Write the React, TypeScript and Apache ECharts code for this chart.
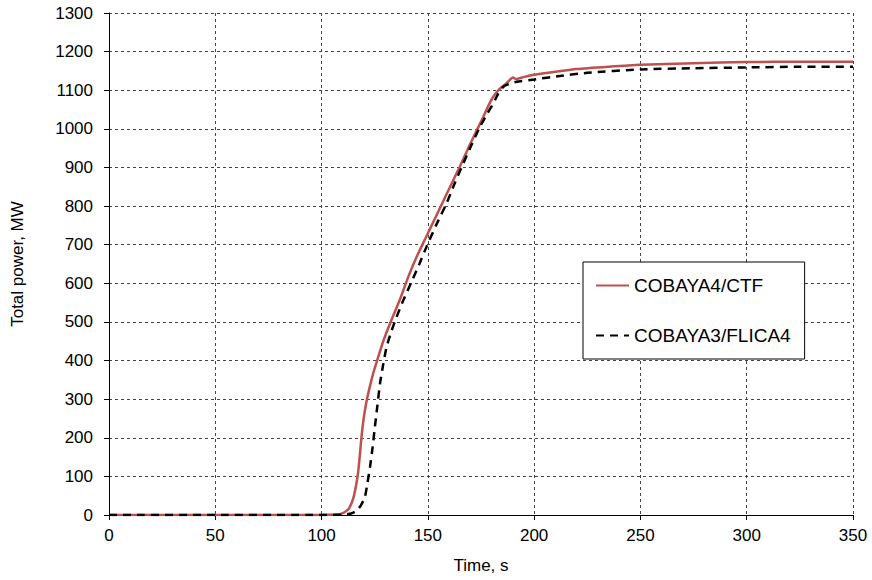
import React, { useEffect, useRef } from "react";
import * as echarts from "echarts";

const ctfTime = [0, 50, 100, 106, 109, 111, 113, 115, 116.5, 117.3, 118, 118.8, 119.8, 121, 122.5, 124.2, 126.2, 129, 132.2, 134, 137, 141, 145, 149, 153, 157, 161, 165, 169, 173, 176, 178.5, 181, 184, 187, 190, 191.5, 195, 200, 210, 220, 235, 250, 275, 300, 325, 350];
const ctfPower = [0, 0, 0, 1, 3, 8, 18, 45, 85, 115, 155, 203, 250, 290, 328, 365, 401, 450, 496, 520, 560, 620, 672, 718, 764, 810, 856, 902, 950, 996, 1030, 1060, 1085, 1105, 1118, 1133, 1129, 1134, 1140, 1148, 1155, 1161, 1166, 1170, 1173, 1174, 1174];

const flicaTime = [0, 50, 100, 110, 114, 116.5, 118.5, 120.4, 121.5, 122.8, 124, 125.1, 126.3, 127.5, 129, 130.6, 133, 135.3, 138, 142, 146, 149.4, 154, 158.8, 162.7, 166.7, 170.5, 174.5, 178, 180.8, 183, 185.5, 188, 191.7, 200, 212, 225, 250, 275, 300, 325, 350];
const flicaPower = [0, 0, 0, 1, 4, 11, 25, 47, 80, 125, 175, 229, 285, 341, 390, 436, 478, 513, 550, 600, 650, 695, 752, 807, 860, 911, 958, 1005, 1040, 1066, 1090, 1109, 1116, 1122, 1128, 1137, 1145, 1154, 1157, 1159, 1161, 1161];

const seriesNames = ["COBAYA4/CTF", "COBAYA3/FLICA4"];
const xTitle = "Time, s";
const yTitle = "Total power, MW";

const FONT = "'Liberation Sans', Arial, sans-serif";

export default function App() {
  const ref = useRef<HTMLDivElement>(null);
  useEffect(() => {
    if (!ref.current) return;
    const chart = echarts.init(ref.current, undefined, { renderer: "svg" });
    const gridLine = { show: true, lineStyle: { color: "#444", type: [3, 3] as any, width: 1 } };
    chart.setOption({
      animation: false,
      backgroundColor: "#fff",
      textStyle: { fontFamily: FONT },
      grid: { left: 109, right: 19, top: 13, bottom: 65 },
      legend: {
        orient: "vertical",
        left: 583,
        top: 262,
        padding: [14, 14, 14, 12],
        itemWidth: 33,
        itemHeight: 14,
        itemGap: 31,
        borderColor: "#000",
        borderWidth: 1,
        backgroundColor: "#fff",
        itemStyle: { opacity: 0 },
        textStyle: { fontSize: 19, color: "#000", fontFamily: FONT },
        data: seriesNames,
      },
      xAxis: {
        type: "value",
        min: 0,
        max: 350,
        interval: 50,
        name: xTitle,
        nameLocation: "middle",
        nameGap: 42,
        nameTextStyle: { fontSize: 17, color: "#000", fontFamily: FONT },
        axisLine: { show: true, lineStyle: { color: "#000", width: 1 } },
        axisTick: { show: true, length: 5, lineStyle: { color: "#000" } },
        axisLabel: { fontSize: 17, color: "#000", margin: 12, fontFamily: FONT, formatter: (v: number) => String(v) },
        splitLine: gridLine,
      },
      yAxis: {
        type: "value",
        min: 0,
        max: 1300,
        interval: 100,
        name: yTitle,
        nameLocation: "middle",
        nameGap: 83,
        nameTextStyle: { fontSize: 17, color: "#000", fontFamily: FONT },
        axisLine: { show: true, lineStyle: { color: "#000", width: 1 } },
        axisTick: { show: true, length: 5, lineStyle: { color: "#000" } },
        axisLabel: { fontSize: 17, color: "#000", margin: 16, fontFamily: FONT, formatter: (v: number) => String(v) },
        splitLine: gridLine,
      },
      series: [
        {
          name: seriesNames[0],
          type: "line",
          symbol: "none",
          smooth: 0.2,
          data: ctfTime.map((t, i) => [t, ctfPower[i]]),
          lineStyle: { color: "#C0504D", width: 2.5 },
          itemStyle: { color: "#C0504D" },
          z: 3,
        },
        {
          name: seriesNames[1],
          type: "line",
          symbol: "none",
          smooth: 0.2,
          data: flicaTime.map((t, i) => [t, flicaPower[i]]),
          lineStyle: { color: "#000", width: 2.5, type: [8, 6] as any },
          itemStyle: { color: "#000" },
          z: 4,
        },
      ],
    });
    return () => chart.dispose();
  }, []);
  return <div ref={ref} style={{ width: 872, height: 580, position: "absolute", left: 0, top: 0 }} />;
}
